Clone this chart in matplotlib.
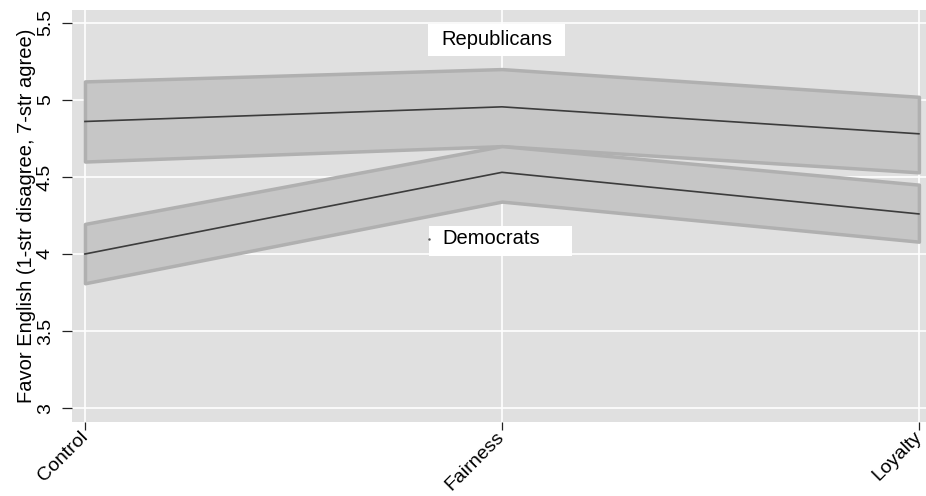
import matplotlib
matplotlib.use("Agg")
import matplotlib.pyplot as plt
from matplotlib.patches import Rectangle

categories = ["Control", "Fairness", "Loyalty"]
rep_mean = [4.86, 4.955, 4.78]
rep_hi = [5.12, 5.20, 5.02]
rep_lo = [4.60, 4.70, 4.53]
dem_mean = [4.00, 4.53, 4.26]
dem_hi = [4.195, 4.70, 4.45]
dem_lo = [3.81, 4.34, 4.08]
yticks = [3, 3.5, 4, 4.5, 5, 5.5]
ytick_labels = ["3", "3.5", "4", "4.5", "5", "5.5"]

plt.rcParams['font.family'] = ['Liberation Sans', 'DejaVu Sans']

fig = plt.figure(figsize=(9.26, 4.96), dpi=100)
ax = fig.add_axes([0.0778, 0.149, 0.9222, 0.831])
ax.set_facecolor('#e0e0e0')
for s in ax.spines.values():
    s.set_visible(False)

x = list(range(len(categories)))
for lo, hi, mean in [(rep_lo, rep_hi, rep_mean), (dem_lo, dem_hi, dem_mean)]:
    ax.fill_between(x, lo, hi, facecolor='#c6c6c6', edgecolor='#b0b0b0', linewidth=2.5, zorder=2)
    ax.plot(x, mean, color='#3c3c3c', linewidth=1.2, zorder=3)

# label boxes
ax.add_patch(Rectangle((0.823, 5.286), 0.328, 0.208, facecolor='white', edgecolor='none', zorder=4))
ax.text(0.988, 5.39, "Republicans", ha='center', va='center', fontsize=14.5, zorder=5)
ax.add_patch(Rectangle((0.825, 3.987), 0.343, 0.195, facecolor='white', edgecolor='none', zorder=4))
ax.plot([0.825], [4.10], marker='.', markersize=1.5, color='#555555', zorder=5)
ax.text(0.857, 4.10, "Democrats", ha='left', va='center', fontsize=14.5, zorder=5)

ax.set_xlim(-0.031, 2.017)
ax.set_ylim(2.909, 5.584)
ax.set_xticks(x)
ax.set_xticklabels(categories, rotation=45, ha='right', va='center', rotation_mode='anchor', fontsize=14)
ax.set_yticks(yticks)
ax.set_yticklabels(ytick_labels, rotation=90, va='center', fontsize=14)
ax.tick_params(axis='y', length=7, width=0.9, color='#222222', pad=6)
ax.tick_params(axis='x', length=6, width=0.9, color='#222222', pad=3)
ax.grid(True, color='white', linewidth=1.2, zorder=0)
ax.set_axisbelow(True)
ax.set_ylabel("Favor English (1-str disagree, 7-str agree)", fontsize=14.5, labelpad=1)

fig.savefig("out.png", dpi=100)
